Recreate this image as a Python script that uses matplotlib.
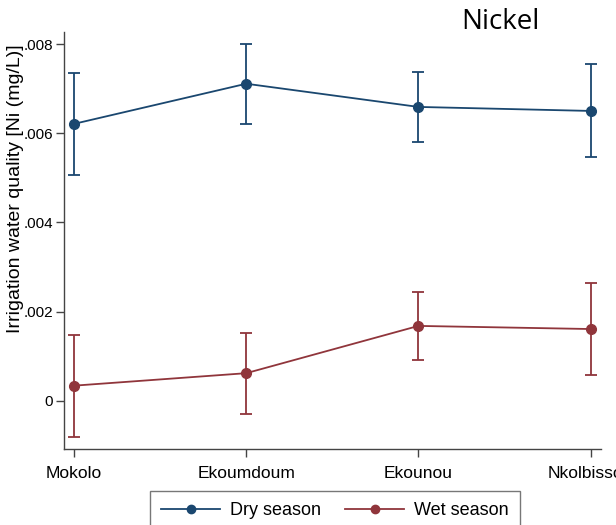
import matplotlib
matplotlib.use("Agg")
import matplotlib.pyplot as plt
from matplotlib.lines import Line2D
import numpy as np

plt.rcParams['font.family'] = ['Liberation Sans', 'DejaVu Sans']

sites = ["Mokolo", "Ekoumdoum", "Ekounou", "Nkolbisson"]

dry_mean = [0.00621, 0.00711, 0.00659, 0.00650]
dry_upper = [0.00735, 0.00800, 0.00737, 0.00755]
dry_lower = [0.00507, 0.00621, 0.00581, 0.00546]

wet_mean = [0.00034, 0.00062, 0.00168, 0.00161]
wet_upper = [0.00148, 0.00153, 0.00245, 0.00265]
wet_lower = [-0.00080, -0.00029, 0.00091, 0.00057]

y_ticks = [0, 0.002, 0.004, 0.006, 0.008]
y_tick_labels = ["0", ".002", ".004", ".006", ".008"]

dry_color = "#1a476f"
wet_color = "#90353b"

fig = plt.figure(figsize=(6.16, 5.25), dpi=100)
ax = fig.add_axes([64 / 616, 1 - 449 / 525, (601 - 64) / 616, (449 - 32) / 525])

x = np.arange(len(sites))


def draw_series(mean, lower, upper, color, label):
    mean = np.array(mean)
    err = [mean - np.array(lower), np.array(upper) - mean]
    ax.errorbar(x, mean, yerr=err, color=color, lw=1.3, marker="o", ms=7,
                capsize=4, capthick=1.3, elinewidth=1.3, label=label)


draw_series(dry_mean, dry_lower, dry_upper, dry_color, "Dry season")
draw_series(wet_mean, wet_lower, wet_upper, wet_color, "Wet season")

ax.set_xlim(-0.058, 3.06)
ax.set_ylim(-0.00108, 0.00827)
ax.set_xticks(x)
ax.set_xticklabels(sites, fontsize=12.5)
ax.set_yticks(y_ticks)
ax.set_yticklabels(y_tick_labels, fontsize=11)

fig.text(16 / 616, 1 - 189 / 525, "Irrigation water quality [Ni (mg/L)]",
         fontsize=14, rotation=90, ha="center", va="center")

for side in ("top", "right"):
    ax.spines[side].set_visible(False)
for side in ("left", "bottom"):
    ax.spines[side].set_color("#444444")
    ax.spines[side].set_linewidth(1.0)
ax.tick_params(axis="both", direction="out", length=6, width=1.0, color="#444444")
ax.tick_params(axis="y", pad=2)
ax.tick_params(axis="x", pad=6)

fig.text(500 / 616, 1 - 22 / 525, "Nickel", fontsize=20, ha="center", va="center",
         family=["Open Sans", "DejaVu Sans"])

labels = ["Dry season", "Wet season"]
leg_handles = [Line2D([], [], color=dry_color, lw=1.3, marker="o", ms=6),
               Line2D([], [], color=wet_color, lw=1.3, marker="o", ms=6)]
leg = fig.legend(leg_handles, labels, loc="upper left",
                 bbox_to_anchor=(150 / 616, 1 - 491 / 525), borderaxespad=0,
                 ncol=2, fontsize=13, frameon=True, fancybox=False,
                 handlelength=3.3, columnspacing=1.3, borderpad=0.6,
                 handletextpad=0.55)
leg.get_frame().set_edgecolor("#555555")
leg.get_frame().set_linewidth(1.0)

fig.savefig("out.png", dpi=100)
